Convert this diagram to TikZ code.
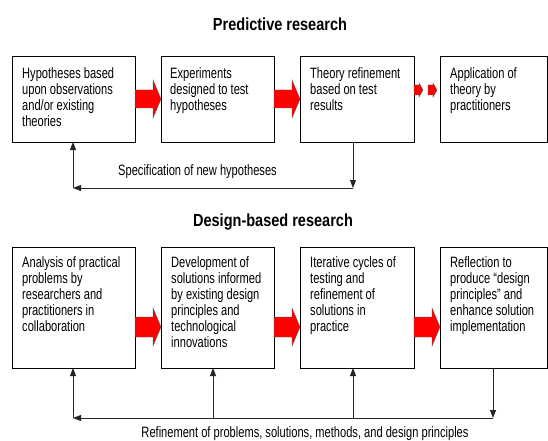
\documentclass[tikz,border=0pt]{standalone}
\usepackage{fontspec}
\setmainfont{Liberation Sans}
\newfontfamily\bodyfont{Liberation Sans}[FakeStretch=0.74]
\newfontfamily\titlefont{Liberation Sans}[FakeStretch=0.83]
\usetikzlibrary{calc,arrows.meta}
\newcommand\blockarrow[5]{% start, end, body half, head half, head length
  \fill[red, draw=black!65, line width=0.4pt]
    ($(#1)+(0,-#3)$) -- ($(#2)+(-#5,-#3)$) -- ($(#2)+(-#5,-#4)$) -- (#2)
    -- ($(#2)+(-#5,#4)$) -- ($(#2)+(-#5,#3)$) -- ($(#1)+(0,#3)$) -- cycle;}
\begin{document}
\begin{tikzpicture}[x=1pt,y=-1pt,
  box/.style={draw=black, line width=0.9pt, anchor=north west, inner sep=0pt, outer sep=0pt},
  txt/.style={font=\bodyfont\fontsize{15}{16}\selectfont, align=left, anchor=north west, inner sep=0pt},
  lbl/.style={font=\bodyfont\fontsize{15}{16}\selectfont, anchor=base, inner sep=0pt},
  ttl/.style={font=\titlefont\bfseries\fontsize{17.5}{20}\selectfont, anchor=base, inner sep=0pt},
  fb/.style={draw=black!85, line width=0.9pt, -{Triangle[length=8pt,width=6pt]}}]
\fill[white] (0,0) rectangle (548,441);
\useasboundingbox (0,0) rectangle (548,441);

% titles
\node[ttl] (t1) at (280,31) {Predictive research};
\node[ttl] (t2) at (273,226) {Design-based research};

% top row boxes
\node[box, minimum width=123pt, minimum height=86pt] (a1) at (12,56) {};
\node[box, minimum width=113pt, minimum height=86pt] (a2) at (161,56) {};
\node[box, minimum width=114pt, minimum height=86pt] (a3) at (300,56) {};
\node[box, minimum width=107pt, minimum height=86pt] (a4) at (440,56) {};

\node[txt] (ta1) at ($(a1.north west)+(10,11.5)$) {Hypotheses based\\upon observations\\and/or existing\\theories};
\node[txt] (ta2) at ($(a2.north west)+(9,11.5)$) {Experiments\\designed to test\\hypotheses};
\node[txt] (ta3) at ($(a3.north west)+(10,11.5)$) {Theory refinement\\based on test\\results};
\node[txt] (ta4) at ($(a4.north west)+(10,11.5)$) {Application of\\theory by\\practitioners};

% bottom row boxes
\node[box, minimum width=123pt, minimum height=121pt] (d1) at (12,247) {};
\node[box, minimum width=113pt, minimum height=121pt] (d2) at (161,247) {};
\node[box, minimum width=114pt, minimum height=121pt] (d3) at (300,247) {};
\node[box, minimum width=107pt, minimum height=121pt] (d4) at (440,247) {};

\node[txt] (td1) at ($(d1.north west)+(10,9.5)$) {Analysis of practical\\problems by\\researchers and\\practitioners in\\collaboration};
\node[txt] (td2) at ($(d2.north west)+(10,9.5)$) {Development of\\solutions informed\\by existing design\\principles and\\technological\\innovations};
\node[txt] (td3) at ($(d3.north west)+(10,9.5)$) {Iterative cycles of\\testing and\\refinement of\\solutions in\\practice};
\node[txt] (td4) at ($(d4.north west)+(10,9.5)$) {Reflection to\\produce “design\\principles” and\\enhance solution\\implementation};

% red block arrows, top row
\coordinate (s1) at (a1.east |- 0,99); \coordinate (e1) at (a2.west |- 0,99);
\coordinate (s2) at (a2.east |- 0,99); \coordinate (e2) at (a3.west |- 0,99);
\blockarrow{s1}{e1}{9}{19}{8}
\blockarrow{s2}{e2}{9}{19}{8}
\coordinate (s3) at (a3.east |- 0,90); \coordinate (e3) at (423,90);
\coordinate (s4) at (428,90); \coordinate (e4) at (437,90);
\blockarrow{s3}{e3}{5}{7}{4}
\blockarrow{s4}{e4}{5}{7}{4}

% red block arrows, bottom row
\coordinate (u1) at (d1.east |- 0,327); \coordinate (v1) at (d2.west |- 0,327);
\coordinate (u2) at (d2.east |- 0,327); \coordinate (v2) at (d3.west |- 0,327);
\coordinate (u3) at (d3.east |- 0,327); \coordinate (v3) at (d4.west |- 0,327);
\blockarrow{u1}{v1}{10}{19}{8}
\blockarrow{u2}{v2}{10}{19}{8}
\blockarrow{u3}{v3}{10}{19}{8}

% top feedback loop
\coordinate (tr) at (353,188);
\coordinate (tl) at (73,188);
\draw[fb] (a3.south -| tr) -- (tr);
\draw[fb] (tr) -- (tl);
\draw[fb] (tl) -- (a1.south -| tl);
\node[lbl] (spec) at (197.5,175) {Specification of new hypotheses};

% bottom feedback loop
\coordinate (br) at (493,418);
\coordinate (bl) at (73,418);
\coordinate (b2r) at (213,418);
\coordinate (b3r) at (353,418);
\draw[fb] (d4.south -| br) -- (br);
\draw[fb] (br) -- (bl);
\draw[fb] (bl) -- (d1.south -| bl);
\draw[fb] (b2r) -- (d2.south -| b2r);
\draw[fb] (b3r) -- (d3.south -| b3r);
\node[lbl] (refl) at (305,437) {Refinement of problems, solutions, methods, and design principles};
\end{tikzpicture}
\end{document}
